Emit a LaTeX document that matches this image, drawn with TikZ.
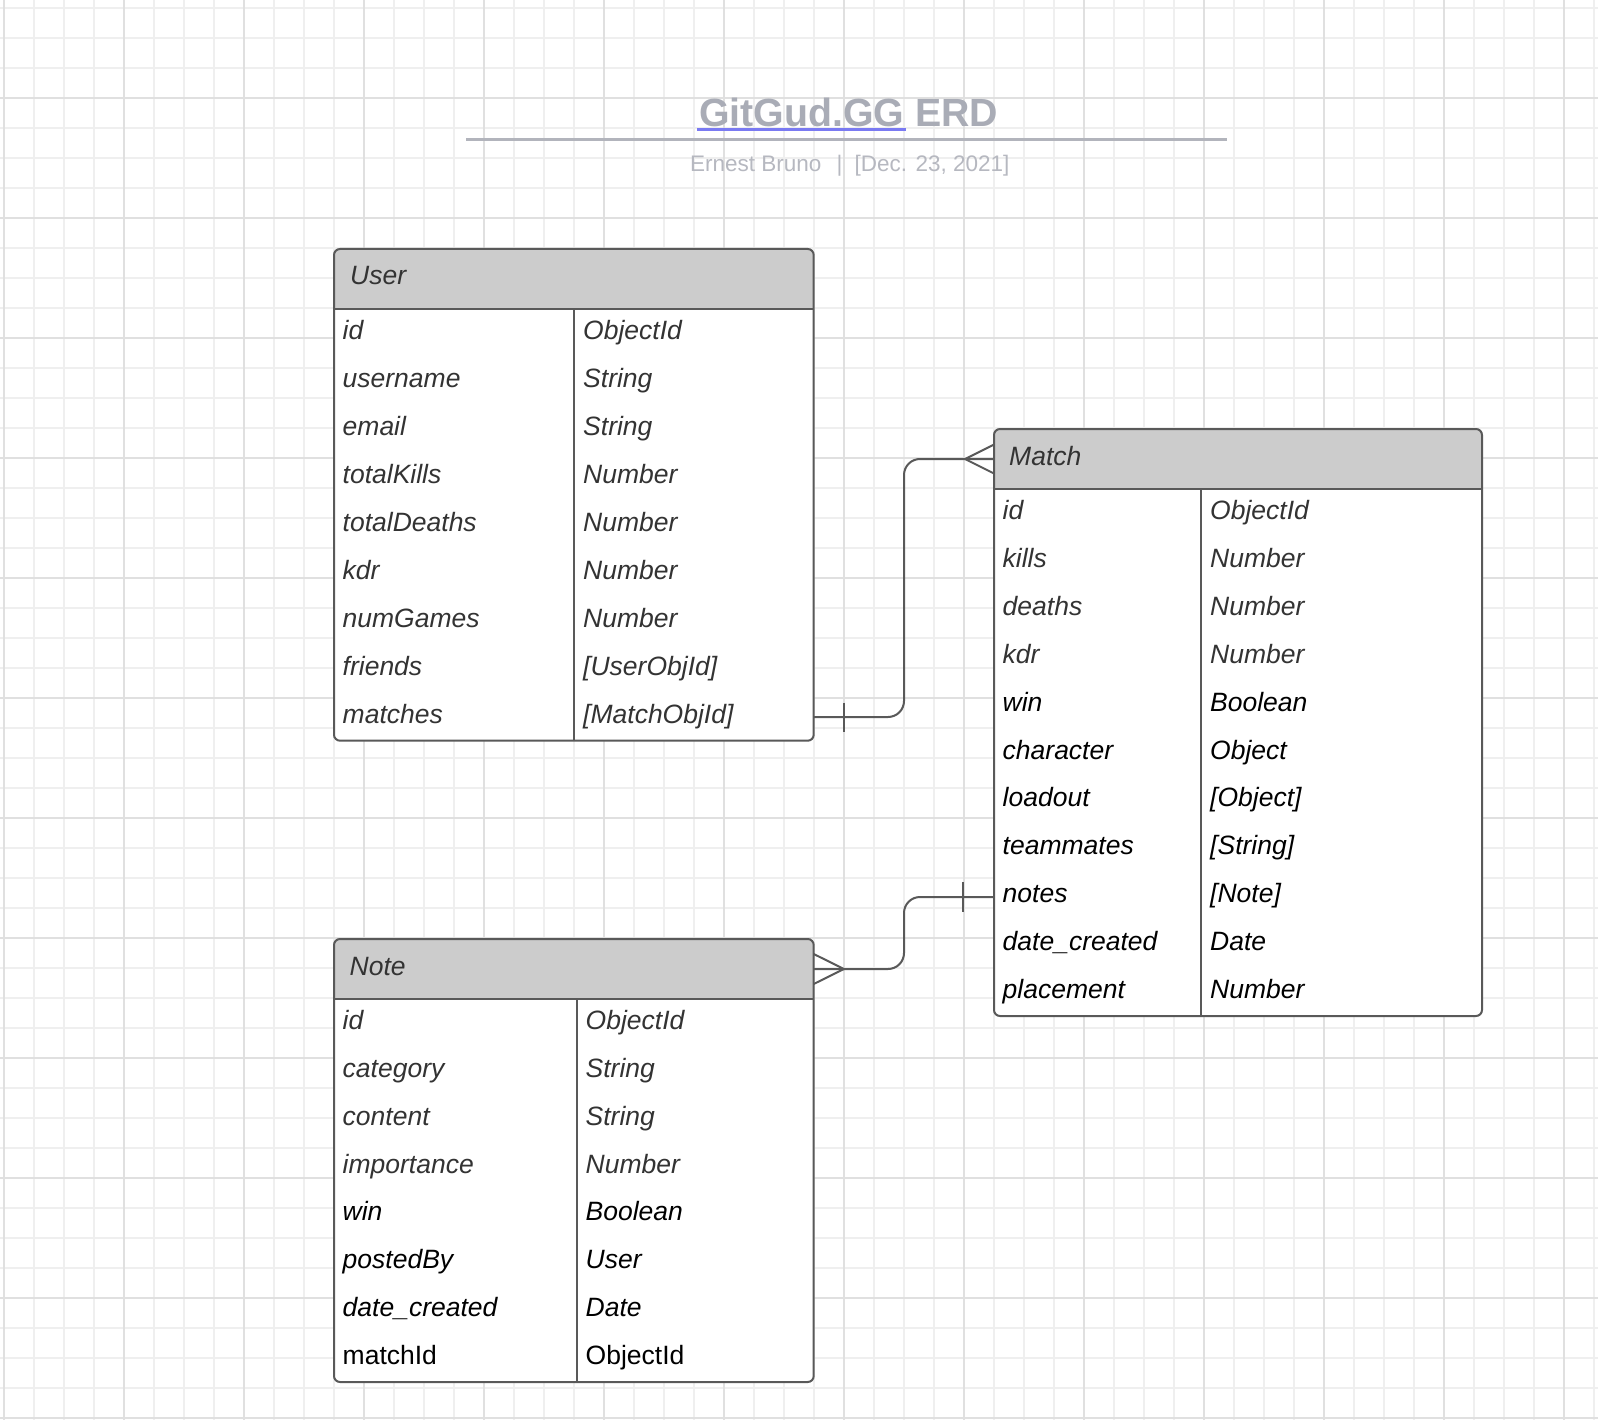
\documentclass[tikz,border=0pt]{standalone}
\usepackage{fontspec}
\setmainfont{Liberation Sans}
\usetikzlibrary{calc,fit}
\definecolor{gridminor}{HTML}{EFEFEF}
\definecolor{gridmajor}{HTML}{E0E0E0}
\definecolor{headgray}{HTML}{CCCCCC}
\definecolor{linegray}{HTML}{595959}
\definecolor{txtgray}{HTML}{333333}
\definecolor{titlegray}{HTML}{A9ACB6}
\definecolor{subgray}{HTML}{B6B8C0}
\definecolor{linkblue}{HTML}{7A7AF2}
\definecolor{rulegray}{HTML}{B2B4BC}
\tikzset{
  gminor/.style={draw=gridminor, line width=1.1pt},
  gmajor/.style={draw=gridmajor, line width=1.1pt},
  tblborder/.style={draw=linegray, line width=2pt, rounded corners=6pt},
  tblline/.style={draw=linegray, line width=2pt},
  conn/.style={draw=linegray, line width=2pt},
  rowtext/.style={anchor=base west, inner sep=0pt, font=\fontsize{26.5}{30}\selectfont\itshape},
  headtext/.style={rowtext, text=txtgray},
  subtext/.style={inner sep=0pt, text=subgray, font=\fontsize{22.5}{24}\selectfont},
}
% #1 name, #2 left, #3 top, #4 right, #5 header bottom, #6 divider x, #7 bottom
\newcommand\ErdTbl[7]{%
  \begin{scope}
    \clip[rounded corners=6pt] (#2,#3) rectangle (#4,#7);
    \fill[white] (#2,#3) rectangle (#4,#7);
    \fill[headgray] (#2,#3) rectangle (#4,#5);
  \end{scope}
  \draw[tblline] (#2,#5) -- (#4,#5);
  \draw[tblline] (#6,#5) -- (#6,#7);
  \coordinate (#1-nw) at (#2,#3);
  \coordinate (#1-se) at (#4,#7);
  \node[fit=(#1-nw)(#1-se), tblborder, inner sep=0pt, outer sep=0pt] (#1) {};
}
\begin{document}
\begin{tikzpicture}[x=1pt,y=-1pt]
\useasboundingbox (0,0) rectangle (1598,1420);
\fill[white] (0,0) rectangle (1598,1420);
% grid
\foreach \x in {4,34,...,1598} \draw[gminor] (\x,0) -- (\x,1420);
\foreach \y in {8,38,...,1420} \draw[gminor] (0,\y) -- (1598,\y);
\foreach \x in {4,124,...,1598} \draw[gmajor] (\x,0) -- (\x,1420);
\foreach \y in {98,218,...,1420} \draw[gmajor] (0,\y) -- (1598,\y);

% title
\node[anchor=base west, inner sep=0pt, text=titlegray, font=\fontsize{39.3}{41}\selectfont\bfseries] (title) at (699,126.5) {GitGud.GG ERD};
\coordinate (ulA) at (697,130);
\coordinate (ulB) at (906,130);
\draw[linkblue, line width=3pt] (ulA) -- (ulB);
\coordinate (ruleA) at (466,140);
\coordinate (ruleB) at (1227,140);
\draw[rulegray, line width=3pt] (ruleA) -- (ruleB);
\node[subtext, anchor=base west] (author) at (690,171.5) {Ernest Bruno};
\node[subtext, anchor=base] (sep) at (839.5,171.5) {|};
\node[subtext, anchor=base west] (date) at (854.5,171.5) {[Dec. 23, 2021]};

% User table
\ErdTbl{user}{334}{249}{813.7}{309}{574}{740.7}
\node[headtext] (user-title) at (350,285) {User};
\foreach \a/\b/\c [count=\i from 0] in {id/ObjectId/txtgray, username/String/txtgray, email/String/txtgray, totalKills/Number/txtgray, totalDeaths/Number/txtgray, kdr/Number/txtgray, numGames/Number/txtgray, friends/{[UserObjId]}/txtgray, matches/{[MatchObjId]}/txtgray}{
  \node[rowtext, text=\c] (user-n\i) at ({342.5},{309+\i*47.97+30.5}) {\a};
  \node[rowtext, text=\c] (user-t\i) at ({583},{309+\i*47.97+30.5}) {\b};
}

% Match table
\ErdTbl{match}{994}{429}{1482}{489}{1201}{1016}
\node[headtext] (match-title) at (1009,465) {Match};
\foreach \a/\b/\c [count=\i from 0] in {id/ObjectId/txtgray, kills/Number/txtgray, deaths/Number/txtgray, kdr/Number/txtgray, win/Boolean/black, character/Object/black, loadout/{[Object]}/black, teammates/{[String]}/black, notes/{[Note]}/black, date\_created/Date/black, placement/Number/black}{
  \node[rowtext, text=\c] (match-n\i) at ({1002.5},{489+\i*47.9+30.5}) {\a};
  \node[rowtext, text=\c] (match-t\i) at ({1210},{489+\i*47.9+30.5}) {\b};
}

% Note table
\ErdTbl{note}{334}{939}{813.7}{999}{577}{1382}
\node[headtext] (note-title) at (349.5,975) {Note};
\foreach \a/\b/\c [count=\i from 0] in {id/ObjectId/txtgray, category/String/txtgray, content/String/txtgray, importance/Number/txtgray, win/Boolean/black, postedBy/User/black, date\_created/Date/black}{
  \node[rowtext, text=\c] (note-n\i) at ({342.5},{999+\i*47.85+30.5}) {\a};
  \node[rowtext, text=\c] (note-t\i) at ({585.5},{999+\i*47.85+30.5}) {\b};
}
\node[rowtext, text=black, font=\fontsize{26.5}{30}\selectfont\upshape] (note-n7) at ({342.5},{999+7*47.85+30.5}) {matchId};
\node[rowtext, text=black, font=\fontsize{26.5}{30}\selectfont\upshape] (note-t7) at ({585.5},{999+7*47.85+30.5}) {ObjectId};

% connectors
\coordinate (u-matches) at (813.7,717);
\coordinate (m-headw) at (994,459);
\coordinate (m-notes) at (994,897);
\coordinate (n-heade) at (813.7,969);
\coordinate (bendA) at (904,600);
\coordinate (bendB) at (904,930);

\draw[conn, rounded corners=16pt] (u-matches) -| (bendA) |- (m-headw);
\draw[conn] ($(u-matches)+(30.3,-14.5)$) -- ($(u-matches)+(30.3,14.5)$);
\draw[conn] ($(m-headw)+(0,-14.5)$) -- ($(m-headw)+(-29,0)$) -- ($(m-headw)+(0,14.5)$);

\draw[conn, rounded corners=16pt] (m-notes) -| (bendB) |- (n-heade);
\draw[conn] ($(m-notes)+(-31,-15)$) -- ($(m-notes)+(-31,15)$);
\draw[conn] ($(n-heade)+(0,-15)$) -- ($(n-heade)+(30.3,0)$) -- ($(n-heade)+(0,15)$);
\end{tikzpicture}
\end{document}
